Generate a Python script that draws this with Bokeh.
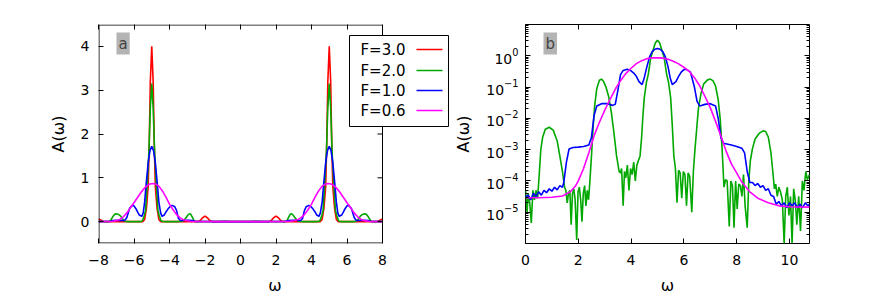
from bokeh.plotting import figure
from bokeh.models import Range1d, LinearAxis, LogAxis, FixedTicker, Label, BoxAnnotation
from bokeh.layouts import row
from bokeh.embed import file_html
from bokeh.resources import INLINE

# ---------------- data (omega >= 0) ----------------
# F=3.0 (only in panel a)
omega_red = [0.0, 1.6, 1.75, 1.85, 1.95, 2.0, 2.05, 2.15, 2.25, 2.4, 4.5, 4.6, 4.7, 4.8, 4.86, 4.92,
             5.0, 5.08, 5.14, 5.2, 5.3, 5.4, 5.5, 7.7, 7.85, 8.0]
red = [0.0, 0.0, 0.03, 0.08, 0.115, 0.12, 0.115, 0.08, 0.03, 0.0, 0.0, 0.05, 0.3, 0.8, 1.8, 3.2,
       4.0, 3.2, 1.8, 0.8, 0.3, 0.05, 0.0, 0.0, 0.03, 0.06]

# F=2.0
omega_green = [0.00, 0.06, 0.10, 0.16, 0.22, 0.28, 0.34, 0.40, 0.46, 0.52, 0.58, 0.65, 0.75, 0.90, 1.05,
               1.20, 1.30, 1.40, 1.48, 1.53, 1.58, 1.63, 1.68, 1.73, 1.78, 1.83, 1.88, 1.94, 1.99, 2.04,
               2.09, 2.14, 2.19, 2.24, 2.29, 2.34, 2.39, 2.44, 2.50, 2.56, 2.62, 2.70, 2.80, 2.88, 2.96,
               3.05, 3.15, 3.25, 3.35, 3.45, 3.55, 3.60, 3.64, 3.70, 3.75, 3.80, 3.86, 3.92, 3.98, 4.04,
               4.10, 4.16, 4.22, 4.28, 4.34, 4.40, 4.45, 4.50, 4.58, 4.65, 4.75, 4.84, 4.92, 5.00, 5.08,
               5.16, 5.25, 5.35, 5.42, 5.50, 5.56, 5.62, 5.68, 5.74, 5.80, 5.86, 5.92, 5.98, 6.04, 6.10,
               6.16, 6.22, 6.30, 6.36, 6.42, 6.48, 6.55, 6.65, 6.75, 6.90, 7.00, 7.10, 7.20, 7.30, 7.38,
               7.45, 7.52, 7.58, 7.64, 7.72, 7.78, 7.84, 7.90, 7.96, 8.02, 8.08, 8.14, 8.20, 8.26, 8.32,
               8.40, 8.46, 8.52, 8.60, 8.70, 8.85, 9.00, 9.10, 9.20, 9.30, 9.38, 9.43, 9.48, 9.54, 9.60,
               9.66, 9.73, 9.80, 9.86, 9.92, 9.98, 10.04, 10.10, 10.16, 10.22, 10.28, 10.35, 10.42, 10.49,
               10.55, 10.62, 10.68, 10.76]
green = [5.0e-5, 1.0e-5, 4.0e-5, 2.0e-5, 4.5e-6, 5.0e-5, 2.5e-5, 5.0e-5, 2.8e-5, 1.6e-4, 1.0e-3, 2.5e-3,
         4.5e-3, 5.2e-3, 4.2e-3, 1.9e-3, 6.3e-4, 2.0e-4, 6.3e-5, 5.0e-5, 2.0e-5, 4.0e-5, 5.0e-5, 4.0e-6,
         4.0e-5, 5.6e-5, 2.5e-5, 1.3e-6, 4.5e-5, 6.3e-5, 2.5e-5, 5.0e-6, 4.0e-5, 7.1e-5, 1.6e-5, 5.0e-5,
         2.5e-5, 1.0e-4, 6.3e-4, 5.0e-3, 2.5e-2, 8.9e-2, 0.166, 0.18, 0.15, 0.10, 0.05, 0.016, 3.5e-3,
         6.3e-4, 2.0e-4, 1.8e-4, 2.5e-4, 1.6e-5, 2.0e-4, 1.26e-4, 3.2e-4, 5.0e-5, 2.5e-4, 1.6e-4, 4.0e-4,
         1.0e-4, 3.2e-4, 4.5e-4, 6.3e-4, 2.5e-3, 1.26e-2, 4.5e-2, 0.14, 0.25, 0.9, 1.6, 2.6, 3.15, 2.6,
         1.6, 0.9, 0.25, 0.14, 4.5e-2, 6.3e-3, 6.3e-4, 2.5e-4, 2.0e-5, 2.2e-4, 1.8e-4, 2.8e-5, 2.0e-4,
         1.6e-4, 1.6e-5, 1.8e-4, 1.4e-4, 1.0e-5, 2.0e-4, 1.0e-3, 4.0e-3, 2.0e-2, 6.3e-2, 0.126, 0.17,
         0.18, 0.16, 0.11, 0.04, 8.9e-3, 1.0e-3, 6.3e-5, 1.1e-4, 1.0e-4, 3.5e-6, 1.0e-4, 7.1e-5, 3.2e-6,
         1.0e-4, 1.26e-5, 7.9e-5, 7.1e-5, 3.2e-5, 1.6e-4, 1.6e-5, 3.2e-6, 1.0e-4, 4.5e-4, 1.1e-3, 2.2e-3,
         3.3e-3, 4.0e-3, 3.8e-3, 2.5e-3, 7.9e-4, 1.6e-4, 5.6e-5, 7.9e-5, 3.2e-5, 6.3e-5, 4.5e-5, 2.5e-5,
         1.0e-6, 3.2e-5, 6.3e-5, 7.9e-6, 3.2e-5, 1.0e-6, 5.6e-5, 2.5e-5, 4.0e-6, 3.2e-5, 2.5e-6, 1.0e-4,
         5.0e-5, 2.0e-4, 1.1e-4, 1.6e-4]

# F=1.0
omega_blue = [0.0, 0.1, 0.2, 0.3, 0.4, 0.5, 0.6, 0.7, 0.8, 0.9, 1.0, 1.1, 1.2, 1.3, 1.4, 1.45, 1.55, 1.65,
              1.8, 2.0, 2.2, 2.4, 2.5, 2.6, 2.7, 2.9, 3.1, 3.3, 3.4, 3.5, 3.6, 3.7, 3.85, 4.0, 4.1, 4.2,
              4.3, 4.42, 4.5, 4.6, 4.7, 4.8, 4.9, 5.0, 5.1, 5.2, 5.3, 5.4, 5.48, 5.56, 5.7, 5.8, 5.9, 6.0,
              6.1, 6.25, 6.4, 6.5, 6.6, 6.8, 7.0, 7.2, 7.3, 7.4, 7.5, 7.8, 8.0, 8.2, 8.3, 8.4, 8.5, 8.6,
              8.7, 8.8, 8.9, 9.0, 9.1, 9.2, 9.3, 9.4, 9.5, 9.6, 9.7, 9.8, 9.9, 10.0, 10.1, 10.2, 10.3,
              10.4, 10.5, 10.6, 10.7, 10.76]
blue = [3.2e-5, 3.5e-5, 2.5e-5, 4.0e-5, 3.2e-5, 4.5e-5, 3.5e-5, 5.0e-5, 4.2e-5, 5.6e-5, 4.7e-5, 6.3e-5,
        5.2e-5, 7.1e-5, 6.3e-5, 8.9e-5, 4.0e-4, 1.05e-3, 1.17e-3, 1.2e-3, 1.26e-3, 1.4e-3, 2.5e-3,
        1.26e-2, 2.5e-2, 3.0e-2, 2.95e-2, 2.6e-2, 2.8e-2, 7.9e-2, 0.25, 0.34, 0.37, 0.33, 0.28, 0.22,
        0.15, 0.12, 0.2, 0.45, 0.92, 1.35, 1.62, 1.72, 1.62, 1.35, 0.92, 0.45, 0.2, 0.12, 0.15, 0.22,
        0.3, 0.36, 0.37, 0.3, 0.1, 3.5e-2, 2.5e-2, 2.8e-2, 2.95e-2, 2.5e-2, 1.0e-2, 2.5e-3, 1.6e-3,
        1.4e-3, 1.26e-3, 1.1e-3, 7.9e-4, 2.0e-4, 8.9e-5, 8.9e-5, 7.1e-5, 8.3e-5, 6.3e-5, 7.1e-5, 5.0e-5,
        5.6e-5, 3.5e-5, 3.2e-5, 1.8e-5, 2.2e-5, 1.6e-5, 2.0e-5, 1.4e-5, 2.0e-5, 1.6e-5, 2.0e-5, 1.4e-5,
        1.8e-5, 1.4e-5, 2.0e-5, 1.6e-5, 1.8e-5]

# F=0.6
omega_mag = [0.0, 0.5, 1.0, 1.4, 1.7, 1.9, 2.0, 2.2, 2.4, 2.6, 2.8, 3.0, 3.2, 3.4, 3.6, 3.8, 4.0, 4.2,
             4.4, 4.6, 4.8, 4.95, 5.1, 5.2, 5.4, 5.6, 5.8, 6.0, 6.2, 6.4, 6.6, 6.8, 7.0, 7.2, 7.4, 7.6,
             7.8, 8.0, 8.2, 8.5, 8.8, 9.2, 9.6, 10.0, 10.76]
magenta = [2.9e-5, 2.9e-5, 3.0e-5, 3.3e-5, 4.5e-5, 7.0e-5, 1.0e-4, 2.5e-4, 8.0e-4, 2.8e-3, 7.5e-3,
           0.018, 0.04, 0.085, 0.16, 0.27, 0.40, 0.56, 0.70, 0.81, 0.86, 0.87, 0.86, 0.84, 0.77, 0.67,
           0.55, 0.43, 0.32, 0.2, 0.11, 0.05, 0.022, 8.0e-3, 2.8e-3, 9.0e-4, 3.5e-4, 1.8e-4, 9.0e-5,
           4.5e-5, 2.8e-5, 2.0e-5, 1.6e-5, 1.5e-5, 1.45e-5]

legend_labels = ["F=3.0", "F=2.0", "F=1.0", "F=0.6"]
colors = ["#ff0000", "#00a800", "#0000ff", "#ff00ff"]

xticks_a = [-8, -6, -4, -2, 0, 2, 4, 6, 8]
yticks_a = [0, 1, 2, 3, 4]
xticks_b = [0, 2, 4, 6, 8, 10]
yticks_b = [1e-5, 1e-4, 1e-3, 1e-2, 1e-1, 1e0]
yminor_b = [k * 10.0 ** e for e in range(-6, 1) for k in range(2, 10)]

FONT = "DejaVu Sans"
LW = 1.6

# panel a: plotted x-range is [-8, 8]; the frame is extended to the right so the legend can overhang
XA0, XA1 = -8.0, 8.0
FRAME_A = 284          # pixels that span [-8, 8]
FRAME_A_EXT = 353      # total frame width (legend overhang)
TICK = 5


def mirror_x(w):
    return [-v for v in reversed(w)] + list(w)


def mirror_y(a):
    return list(reversed(a)) + list(a)


def upto(w, a, lim):
    pts = [(x, y) for x, y in zip(w, a) if x <= lim]
    return [p[0] for p in pts], [p[1] for p in pts]


def style_axis(ax, show_labels=True):
    ax.axis_line_color = None
    ax.major_tick_in = TICK
    ax.major_tick_out = 0
    ax.minor_tick_in = 3
    ax.minor_tick_out = 0
    ax.major_tick_line_color = "black"
    ax.minor_tick_line_color = "black"
    ax.major_label_text_font = FONT
    ax.major_label_text_color = "black"
    ax.axis_label_text_font = FONT
    ax.axis_label_text_font_size = "16px"
    ax.axis_label_text_font_style = "normal"
    ax.axis_label_text_color = "black"
    if show_labels:
        ax.major_label_text_font_size = "14px"
    else:
        ax.major_label_text_font_size = "6px"
        ax.major_label_text_color = None
        ax.major_label_standoff = 0


# ---------------- panel a ----------------
xa_end = XA0 + (XA1 - XA0) * FRAME_A_EXT / FRAME_A
pa = figure(frame_width=FRAME_A_EXT, frame_height=219, min_border_left=98, min_border_right=0,
            min_border_top=24, min_border_bottom=54, x_range=Range1d(XA0, xa_end),
            y_range=Range1d(-0.5, 4.5), output_backend="svg", toolbar_location=None)
pa.grid.visible = False
pa.outline_line_color = None
pa.background_fill_color = "white"
pa.border_fill_color = "white"

series_a = [(omega_red, red), (omega_green, green), (omega_blue, blue), (omega_mag, magenta)]
for (w, a), col in zip(series_a, colors):
    ww, aa = upto(w, a, XA1)
    pa.line(mirror_x(ww), mirror_y(aa), color=col, line_width=LW)

pa.xaxis.ticker = FixedTicker(ticks=xticks_a)
pa.yaxis.ticker = FixedTicker(ticks=yticks_a)
pa.xaxis.axis_label = "ω"
pa.yaxis.axis_label = "A(ω)"
style_axis(pa.xaxis[0])
style_axis(pa.yaxis[0])
pa.xaxis.major_label_standoff = 11
pa.xaxis.axis_label_standoff = 8
pa.yaxis.major_label_standoff = 9
pa.yaxis.axis_label_standoff = 10
top_a = LinearAxis(ticker=FixedTicker(ticks=xticks_a))
style_axis(top_a, False)
pa.add_layout(top_a, "above")

# mirrored y ticks on the right edge of the plotted range (x = 8)
tick_dx = TICK * (xa_end - XA0) / FRAME_A_EXT
pa.segment(x0=[XA1] * len(yticks_a), y0=yticks_a, x1=[XA1 - tick_dx] * len(yticks_a), y1=yticks_a,
           line_color="black", line_width=1)

# frame of panel a
pa.add_layout(BoxAnnotation(left=0.5, right=FRAME_A, bottom=0.5, top=218.5, left_units="screen",
                            right_units="screen", bottom_units="screen", top_units="screen",
                            fill_color=None, line_color="black", line_width=1, line_alpha=1.0))

pa.add_layout(Label(x=18, y=211, x_units="screen", y_units="screen", text="a", text_font=FONT,
                    text_font_size="15px", text_align="left", text_baseline="top",
                    background_fill_color="#b4b4b4", padding=2))

# legend (text on the left, line sample on the right)
pa.add_layout(BoxAnnotation(left=251, right=350, bottom=117, top=208, left_units="screen",
                            right_units="screen", bottom_units="screen", top_units="screen",
                            fill_color="white", fill_alpha=1.0, line_color="black", line_width=1,
                            line_alpha=1.0))
rows_y = [194, 173, 153, 133]
for lab, col, yy in zip(legend_labels, colors, rows_y):
    pa.add_layout(Label(x=307, y=yy, x_units="screen", y_units="screen", text=lab, text_font=FONT,
                        text_font_size="15px", text_align="right", text_baseline="middle",
                        text_color="black"))
    pa.add_layout(BoxAnnotation(left=318, right=344, bottom=yy - 0.8, top=yy + 0.8, left_units="screen",
                                right_units="screen", bottom_units="screen", top_units="screen",
                                fill_color=col, fill_alpha=1.0, line_color=None))

# ---------------- panel b ----------------
pb = figure(frame_width=284, frame_height=219, min_border_left=72, min_border_right=60,
            min_border_top=24, min_border_bottom=54, x_range=Range1d(0, 10.76), y_range=Range1d(1e-6, 10),
            y_axis_type="log", output_backend="svg", toolbar_location=None)
pb.grid.visible = False
pb.outline_line_color = "black"
pb.outline_line_alpha = 1.0
pb.background_fill_color = "white"
pb.border_fill_color = "white"

pb.line(omega_green, green, color=colors[1], line_width=LW)
pb.line(omega_blue, blue, color=colors[2], line_width=LW)
pb.line(omega_mag, magenta, color=colors[3], line_width=LW)

pb.xaxis.ticker = FixedTicker(ticks=xticks_b)
pb.yaxis.ticker = FixedTicker(ticks=yticks_b, minor_ticks=yminor_b)
pb.xaxis.axis_label = "ω"
pb.yaxis.axis_label = "A(ω)"
style_axis(pb.xaxis[0])
style_axis(pb.yaxis[0])
pb.xaxis.major_label_standoff = 11
pb.xaxis.axis_label_standoff = 8
pb.yaxis.major_label_standoff = 7
pb.yaxis.axis_label_standoff = 10
top_b = LinearAxis(ticker=FixedTicker(ticks=xticks_b))
right_b = LogAxis(ticker=FixedTicker(ticks=yticks_b, minor_ticks=yminor_b))
style_axis(top_b, False)
style_axis(right_b, False)
pb.add_layout(top_b, "above")
pb.add_layout(right_b, "right")

pb.add_layout(Label(x=18, y=211, x_units="screen", y_units="screen", text="b", text_font=FONT,
                    text_font_size="15px", text_align="left", text_baseline="top",
                    background_fill_color="#b4b4b4", padding=2))

layout = row(pa, pb)
open("out.html", "w").write(file_html(layout, INLINE))
